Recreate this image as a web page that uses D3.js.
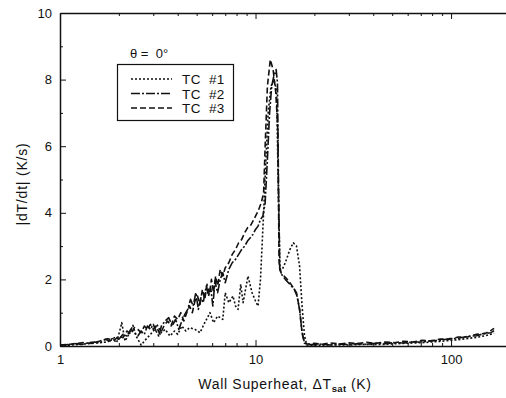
<!DOCTYPE html>
<html><head><meta charset="utf-8">
<script src="https://cdn.jsdelivr.net/npm/d3@7/dist/d3.min.js"></script>
<style>
body{margin:0;background:#fff}
svg{display:block}
text{font-family:"Liberation Sans",Arial,Helvetica,sans-serif;fill:#111}
</style>
</head><body>
<svg id="c" width="506" height="398"></svg>
<script>
// ---- data (ΔT_sat in K, |dT/dt| in K/s) ----
const xTickValues=[1,10,100];
const yTickValues=[0,2,4,6,8,10];
const seriesNames=["TC #1","TC #2","TC #3"];
const legendTitle="θ =  0°";

const tc1=[[1.0,0.0],[1.2,0.04],[1.4,0.07],[1.6,0.1],[1.75,0.12],[1.85,0.22],[1.95,0.1],[2.07,0.7],[2.15,0.15],[2.25,0.35],[2.36,0.62],[2.45,0.3],[2.6,0.03],[2.75,0.2],[2.9,0.35],[3.05,0.5],[3.13,0.65],[3.3,0.4],[3.45,0.5],[3.65,0.3],[3.85,0.45],[4.0,0.35],[4.2,0.6],[4.4,0.45],[4.6,0.55],[4.9,0.5],[5.2,0.4],[5.5,0.7],[5.85,1.0],[6.1,0.7],[6.4,0.9],[6.8,0.8],[7.0,1.6],[7.3,1.3],[7.67,1.5],[7.9,1.2],[8.14,1.1],[8.4,1.85],[8.64,1.3],[9.15,2.1],[9.6,1.6],[10.0,1.35],[10.3,1.2],[10.6,2.0],[11.0,4.0],[11.3,5.6],[11.6,7.0],[12.0,7.8],[12.4,8.0],[12.8,7.7],[13.1,4.5],[13.35,2.3],[13.7,2.3],[14.2,2.5],[15.0,2.9],[15.6,3.1],[16.2,3.0],[16.8,2.4],[17.3,1.2],[17.8,0.3],[18.3,0.03],[20,0.02],[24,0.03],[30,0.03],[37,0.05],[46,0.05],[57,0.08],[71,0.1],[88,0.14],[109,0.19],[135,0.26],[150,0.31],[166,0.38]];

const tc2=[[1.0,0.02],[1.1,0.04],[1.2,0.07],[1.3,0.05],[1.4,0.1],[1.5,0.12],[1.6,0.09],[1.7,0.2],[1.8,0.15],[1.9,0.25],[2.0,0.2],[2.1,0.35],[2.2,0.3],[2.3,0.5],[2.4,0.4],[2.5,0.3],[2.6,0.45],[2.7,0.35],[2.8,0.6],[2.9,0.5],[3.0,0.65],[3.1,0.45],[3.2,0.3],[3.3,0.6],[3.45,0.75],[3.6,0.85],[3.75,0.6],[3.9,0.8],[4.05,0.5],[4.2,0.75],[4.35,0.95],[4.5,1.1],[4.65,1.4],[4.8,1.2],[4.95,1.6],[5.1,1.1],[5.25,1.45],[5.4,1.3],[5.6,1.8],[5.75,1.5],[5.9,1.75],[6.05,1.2],[6.2,1.95],[6.4,1.6],[6.6,2.0],[6.8,2.2],[7.0,1.9],[7.3,2.3],[7.6,2.5],[7.9,2.6],[8.2,2.75],[8.5,2.9],[8.8,3.0],[9.1,3.15],[9.4,3.25],[9.7,3.35],[10.0,3.5],[10.3,3.6],[10.6,3.8],[10.9,3.9],[11.2,4.3],[11.5,5.6],[11.8,7.0],[12.1,7.8],[12.4,8.1],[12.75,8.3],[12.95,7.9],[13.1,5.0],[13.3,2.3],[13.6,2.15],[14.2,2.0],[15.0,1.85],[15.8,1.7],[16.3,1.5],[16.8,1.1],[17.3,0.4],[17.8,0.1],[18.5,0.04],[20,0.04],[22,0.06],[24,0.03],[27,0.06],[30,0.04],[33,0.07],[37,0.05],[41,0.08],[46,0.07],[51,0.1],[57,0.09],[64,0.12],[71,0.12],[79,0.16],[88,0.17],[98,0.22],[109,0.23],[121,0.29],[135,0.31],[150,0.38],[160,0.4],[166,0.46]];

const tc3=[[1.0,0.03],[1.15,0.06],[1.3,0.1],[1.45,0.08],[1.6,0.15],[1.75,0.22],[1.9,0.18],[2.0,0.3],[2.1,0.25],[2.2,0.45],[2.3,0.35],[2.4,0.55],[2.5,0.5],[2.6,0.4],[2.7,0.6],[2.8,0.5],[2.9,0.65],[3.0,0.5],[3.1,0.6],[3.25,0.35],[3.4,0.6],[3.55,0.75],[3.7,0.6],[3.85,0.9],[4.0,0.8],[4.15,1.0],[4.3,0.75],[4.45,1.0],[4.6,1.2],[4.75,1.0],[4.9,1.35],[5.05,1.5],[5.2,1.25],[5.35,1.7],[5.5,1.4],[5.65,1.85],[5.8,1.55],[5.95,2.0],[6.1,1.6],[6.25,2.1],[6.4,1.8],[6.6,2.3],[6.8,2.1],[7.0,2.35],[7.3,2.5],[7.6,2.75],[7.9,2.9],[8.2,3.1],[8.5,3.2],[8.8,3.4],[9.1,3.55],[9.4,3.6],[9.7,3.75],[10.0,3.9],[10.3,4.05],[10.7,4.3],[11.0,4.6],[11.2,6.0],[11.5,7.8],[11.9,8.6],[12.3,8.3],[12.7,7.6],[13.0,6.5],[13.2,2.5],[13.5,2.2],[14.0,2.1],[14.8,1.95],[15.6,1.75],[16.2,1.6],[16.8,1.1],[17.3,0.4],[17.8,0.08],[18.5,0.06],[20,0.08],[22,0.05],[24,0.09],[27,0.06],[30,0.1],[33,0.07],[37,0.11],[41,0.08],[46,0.12],[51,0.1],[57,0.14],[64,0.12],[71,0.17],[79,0.15],[88,0.21],[98,0.2],[109,0.27],[121,0.27],[135,0.35],[150,0.38],[160,0.47],[166,0.53]];

const seriesData=[tc1,tc2,tc3];
const dashes=["2,2","9,2,2,2","6,3"];

// ---- layout ----
const svg=d3.select("#c");
const x=d3.scaleLog().domain([1,191]).range([60,506]);
const y=d3.scaleLinear().domain([0,10]).range([346,13]);

const minorX=[2,3,4,5,6,7,8,9,20,30,40,50,60,70,80,90];
const minorY=[1,3,5,7,9];

function styleAxis(g){
  g.selectAll("path.domain").attr("stroke","#111").attr("stroke-width",1.5);
  g.selectAll(".tick line").attr("stroke","#111").attr("stroke-width",1);
  g.selectAll("text").attr("font-size",13).attr("fill","#111")
    .attr("font-family",'"Liberation Sans",Arial,sans-serif');
}

// bottom axis
const gb=svg.append("g").attr("transform","translate(0,346)")
  .call(d3.axisBottom(x).tickValues(xTickValues).tickSize(-6).tickSizeOuter(0).tickPadding(9).tickFormat(d3.format("d")));
styleAxis(gb);
svg.append("g").attr("transform","translate(0,346)")
  .call(d3.axisBottom(x).tickValues(minorX).tickSize(-3).tickSizeOuter(0).tickFormat(""))
  .call(g=>{g.select(".domain").remove();styleAxis(g);});

// top axis
const gt=svg.append("g").attr("transform","translate(0,13)")
  .call(d3.axisTop(x).tickValues(xTickValues).tickSize(-6).tickSizeOuter(0).tickFormat(""));
styleAxis(gt);
svg.append("g").attr("transform","translate(0,13)")
  .call(d3.axisTop(x).tickValues(minorX).tickSize(-3).tickSizeOuter(0).tickFormat(""))
  .call(g=>{g.select(".domain").remove();styleAxis(g);});

// left axis
const gl=svg.append("g").attr("transform","translate(60,0)")
  .call(d3.axisLeft(y).tickValues(yTickValues).tickSize(-6).tickSizeOuter(0).tickPadding(8).tickFormat(d3.format("d")));
styleAxis(gl);
svg.append("g").attr("transform","translate(60,0)")
  .call(d3.axisLeft(y).tickValues(minorY).tickSize(-3).tickSizeOuter(0).tickFormat(""))
  .call(g=>{g.select(".domain").remove();styleAxis(g);});

// series
const line=d3.line().x(d=>x(d[0])).y(d=>y(d[1]));
seriesData.forEach((s,i)=>{
  svg.append("path").datum(s).attr("d",line)
    .attr("fill","none").attr("stroke","#111").attr("stroke-width",1.6)
    .attr("stroke-linejoin","round").attr("stroke-dasharray",dashes[i]);
});

// legend
svg.append("text").attr("x",130).attr("y",58).attr("font-size",13)
  .attr("xml:space","preserve").style("white-space","pre").text(legendTitle);
svg.append("rect").attr("x",117.5).attr("y",64.5).attr("width",116).attr("height",56)
  .attr("fill","#fff").attr("stroke","#111").attr("stroke-width",1.2);
seriesNames.forEach((n,i)=>{
  const yy=79+i*14.5;
  svg.append("line").attr("x1",131).attr("x2",172).attr("y1",yy).attr("y2",yy)
    .attr("stroke","#111").attr("stroke-width",1.3).attr("stroke-dasharray",dashes[i]);
  svg.append("text").attr("x",182).attr("y",yy+5).attr("font-size",13.5)
    .attr("letter-spacing",0.4).attr("word-spacing",4).text(n);
});

// axis titles
const xt=svg.append("text").attr("x",285).attr("y",389).attr("text-anchor","middle")
  .attr("font-size",14).attr("letter-spacing",0.7);
xt.append("tspan").text("Wall Superheat, ΔT");
xt.append("tspan").attr("font-size",9.5).attr("dy",3).attr("font-weight","bold").attr("letter-spacing",0.3).text("sat");
xt.append("tspan").attr("dy",-3).text(" (K)");

svg.append("text").attr("transform","translate(27,184) rotate(-90)")
  .attr("text-anchor","middle").attr("font-size",14).attr("letter-spacing",0.8).text("|dT/dt| (K/s)");
</script>
</body></html>
